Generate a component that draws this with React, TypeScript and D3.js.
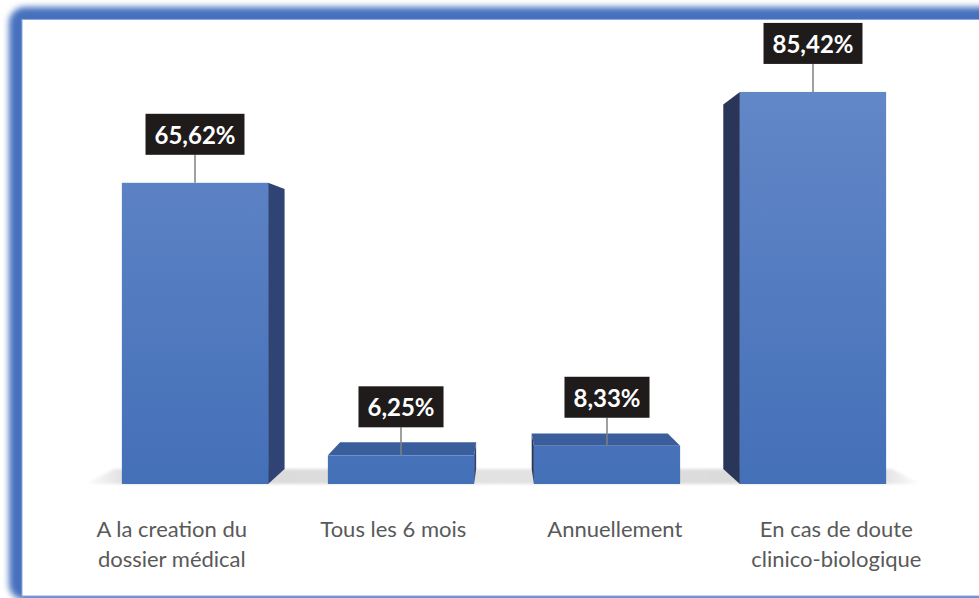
import React, { useEffect, useRef } from 'react'
import * as d3 from 'd3'

const categories = [
  ['A la creation du', 'dossier médical'],
  ['Tous les 6 mois'],
  ['Annuellement'],
  ['En cas de doute', 'clinico-biologique'],
]
const values = [65.62, 6.25, 8.33, 85.42]
const valueLabels = ['65,62%', '6,25%', '8,33%', '85,42%']

const W = 979
const H = 598

const App: React.FC = () => {
  const svgRef = useRef<SVGSVGElement>(null)

  useEffect(() => {
    if (!svgRef.current) return
    const svg = d3.select(svgRef.current)
    svg.selectAll('*').remove()

    const defs = svg.append('defs')
    defs.append('filter').attr('id', 'glow').attr('x', '-5%').attr('y', '-5%').attr('width', '110%').attr('height', '110%')
      .append('feGaussianBlur').attr('stdDeviation', 3)
    defs.append('filter').attr('id', 'soft')
      .append('feGaussianBlur').attr('stdDeviation', 1.5)

    const frontGrad = defs.append('linearGradient').attr('id', 'front')
      .attr('gradientUnits', 'userSpaceOnUse')
      .attr('x1', 0).attr('y1', 60).attr('x2', 0).attr('y2', 484)
    frontGrad.append('stop').attr('offset', 0).attr('stop-color', '#6589c9')
    frontGrad.append('stop').attr('offset', 1).attr('stop-color', '#4470b8')

    const floorGrad = defs.append('linearGradient').attr('id', 'floor')
      .attr('x1', 0).attr('y1', 0).attr('x2', 1).attr('y2', 0)
    floorGrad.append('stop').attr('offset', 0).attr('stop-color', '#ffffff')
    floorGrad.append('stop').attr('offset', 0.06).attr('stop-color', '#d6d6d6')
    floorGrad.append('stop').attr('offset', 0.5).attr('stop-color', '#e2e2e2')
    floorGrad.append('stop').attr('offset', 0.94).attr('stop-color', '#d6d6d6')
    floorGrad.append('stop').attr('offset', 1).attr('stop-color', '#ffffff')

    // Frame with blue glow
    svg.append('rect')
      .attr('x', 9).attr('y', 7).attr('width', 1100).attr('height', 593)
      .attr('rx', 16)
      .attr('fill', '#4671be')
      .attr('filter', 'url(#glow)')
    svg.append('rect')
      .attr('x', 22).attr('y', 19.5).attr('width', 1100).attr('height', 576.5)
      .attr('fill', '#ffffff')
      .attr('stroke', '#8fa9dc').attr('stroke-width', 1)

    // Scales
    const xScale = d3.scaleBand<number>()
      .domain(d3.range(values.length))
      .range([92, 916])
      .paddingInner(0.29)
      .paddingOuter(0.145)

    const yScale = d3.scaleLinear()
      .domain([0, 100])
      .range([484, 25])

    // Perspective
    const vp = { x: 503, y: 270 }
    const s = 0.93
    const px = (x: number, k = s) => vp.x + k * (x - vp.x)
    const py = (y: number, k = s) => vp.y + k * (y - vp.y)

    const g = svg.append('g')

    // Floor
    const fx0 = 85
    const fx1 = 921
    const fy = yScale(0)
    g.append('path')
      .attr('d', `M${fx0},${fy} L${fx1},${fy} L${px(fx1)},${py(fy)} L${px(fx0)},${py(fy)} Z`)
      .attr('fill', 'url(#floor)')
      .attr('filter', 'url(#soft)')

    values.forEach((v, i) => {
      const x0 = xScale(i) ?? 0
      const x1 = x0 + xScale.bandwidth()
      const y0 = yScale(v)
      const y1 = yScale(0)
      const bar = g.append('g')

      // side face
      if (x1 < vp.x) {
        bar.append('path')
          .attr('d', `M${x1},${y0} L${px(x1)},${py(y0)} L${px(x1)},${py(y1)} L${x1},${y1} Z`)
          .attr('fill', '#2f4474')
      }
      if (x0 > vp.x) {
        bar.append('path')
          .attr('d', `M${x0},${y0} L${px(x0)},${py(y0)} L${px(x0)},${py(y1)} L${x0},${y1} Z`)
          .attr('fill', '#29365a')
      }
      // top face
      if (y0 > vp.y) {
        bar.append('path')
          .attr('d', `M${x0},${y0} L${x1},${y0} L${px(x1)},${py(y0)} L${px(x0)},${py(y0)} Z`)
          .attr('fill', '#3a5d9c')
      }
      // front face
      bar.append('rect')
        .attr('x', x0).attr('y', y0)
        .attr('width', x1 - x0).attr('height', y1 - y0)
        .attr('fill', 'url(#front)')
    })

    // Value labels
    values.forEach((v, i) => {
      const cx = (xScale(i) ?? 0) + xScale.bandwidth() / 2
      const top = yScale(v)
      const boxBottom = top - 28
      const boxH = 41
      const lbl = g.append('g')
      lbl.append('line')
        .attr('x1', cx).attr('x2', cx)
        .attr('y1', boxBottom).attr('y2', top)
        .attr('stroke', '#808080').attr('stroke-width', 1.5)
      const rect = lbl.append('rect')
        .attr('y', boxBottom - boxH).attr('height', boxH)
        .attr('fill', '#1f1b1b')
      const txt = lbl.append('text')
        .attr('x', cx).attr('y', boxBottom - boxH / 2)
        .attr('text-anchor', 'middle')
        .attr('dominant-baseline', 'central')
        .style('font-family', 'Lato, "Open Sans", sans-serif')
        .style('font-weight', 'bold')
        .style('font-size', '24px')
        .style('fill', '#ffffff')
        .text(valueLabels[i])
      const tw = (txt.node() as SVGTextElement).getComputedTextLength()
      rect.attr('x', cx - tw / 2 - 9).attr('width', tw + 18)
    })

    // Category labels (projected onto front plane)
    categories.forEach((lines, i) => {
      const cx = px((xScale(i) ?? 0) + xScale.bandwidth() / 2, 1 / s)
      const t = g.append('text')
        .attr('text-anchor', 'middle')
        .style('font-family', 'Lato, "Open Sans", sans-serif')
        .style('font-size', '22px')
        .style('fill', '#595959')
      lines.forEach((line, j) => {
        t.append('tspan')
          .attr('x', cx)
          .attr('y', 537 + j * 30)
          .text(line)
      })
    })
  }, [])

  return (
    <div style={{ position: 'fixed', left: 0, top: 0, width: W, height: H, background: '#fff' }}>
      <svg ref={svgRef} width={W} height={H} style={{ display: 'block' }} />
    </div>
  )
}

export default App
